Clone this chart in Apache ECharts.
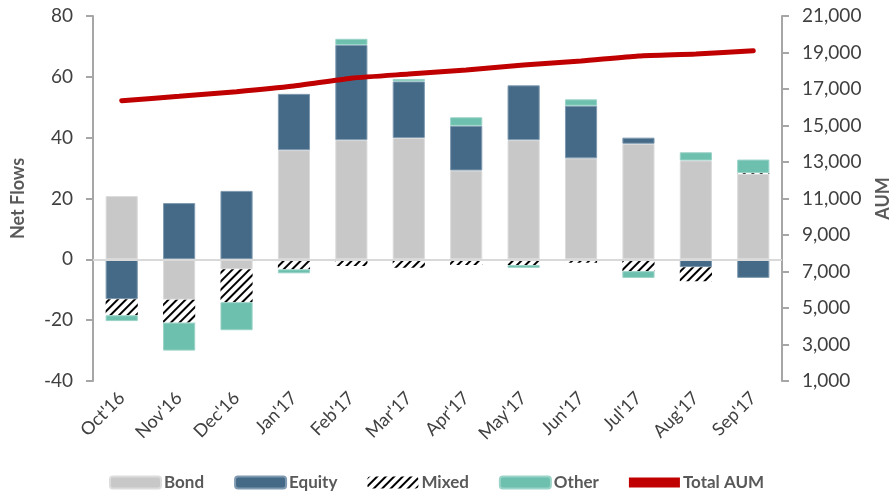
<!DOCTYPE html>
<html>
<head>
<meta charset="utf-8">
<script src="https://cdn.jsdelivr.net/npm/echarts@6/dist/echarts.min.js"></script>
<style>
  html, body { margin: 0; padding: 0; background: #fff; }
  #chart { width: 891px; height: 500px; }
</style>
</head>
<body>
<div id="chart"></div>
<script>
const months = ["Oct'16", "Nov'16", "Dec'16", "Jan'17", "Feb'17", "Mar'17", "Apr'17", "May'17", "Jun'17", "Jul'17", "Aug'17", "Sep'17"]
const bond = [20.8, -13.3, -3.3, 35.9, 39.2, 39.9, 29.2, 39.2, 33.2, 38.0, 32.5, 28.1]
const equity = [-13.1, 18.5, 22.5, 18.5, 31.3, 18.6, 14.7, 18.0, 17.3, 2.0, -2.6, -6.1]
const mixed = [-5.3, -7.5, -10.8, -3.3, -2.2, -2.8, -1.9, -1.9, -1.1, -3.9, -4.6, 0.3]
const other = [-1.9, -9.2, -9.2, -1.3, 2.0, 0.8, 2.8, -0.9, 2.1, -2.2, 2.7, 4.4]
const totalAum = [16360, 16600, 16850, 17160, 17590, 17820, 18040, 18310, 18530, 18810, 18920, 19100]

const chart = echarts.init(document.getElementById('chart'))

const font = 'Lato, "Open Sans", sans-serif'
const textColor = '#404040'
const axisGray = '#A6A6A6'

const option = {
	animation: false,
	textStyle: { fontFamily: font },
	grid: { left: 93, right: 109, top: 16, bottom: 119, outerBoundsMode: 'none', containLabel: false },
	legend: {
		bottom: 4,
		left: 104,
		itemWidth: 51,
		itemHeight: 12,
		itemGap: 30,
		textStyle: { fontFamily: font, fontSize: 17, fontWeight: 'bold', color: '#595959', padding: [0, 0, 0, -2] },
		data: [
			{ name: 'Bond' },
			{ name: 'Equity' },
			{ name: 'Mixed' },
			{ name: 'Other' },
			{ name: 'Total AUM', icon: 'path://M0,0 L10,0 L10,2 L0,2 Z' },
		],
	},
	xAxis: {
		type: 'category',
		data: months,
		axisLine: { show: false },
		axisTick: { show: false },
		axisLabel: { rotate: 45, color: textColor, fontSize: 18, margin: 14, interval: 0 },
	},
	yAxis: [
		{
			type: 'value',
			min: -40,
			max: 80,
			interval: 20,
			name: 'Net Flows',
			nameLocation: 'middle',
			nameGap: 66,
			nameRotate: 90,
			nameTextStyle: { fontSize: 18, fontWeight: 'bold', color: '#595959' },
			axisLine: { show: true, lineStyle: { color: axisGray, width: 2 } },
			axisTick: { show: true, length: 7, lineStyle: { color: axisGray, width: 2 } },
			axisLabel: { color: textColor, fontSize: 19, margin: 20 },
			splitLine: { show: false },
		},
		{
			type: 'value',
			min: 1000,
			max: 21000,
			interval: 2000,
			position: 'right',
			name: 'AUM',
			nameLocation: 'middle',
			nameGap: 92,
			nameRotate: 90,
			nameTextStyle: { fontSize: 18, fontWeight: 'bold', color: '#595959' },
			axisLine: { show: true, lineStyle: { color: axisGray, width: 2 } },
			axisTick: { show: true, length: 7, lineStyle: { color: axisGray, width: 2 } },
			axisLabel: {
				color: textColor,
				fontSize: 19,
				margin: 20,
				formatter: (v) => v.toLocaleString('en-US'),
			},
			splitLine: { show: false },
		},
	],
	series: [
		{
			name: 'Bond',
			type: 'bar',
			stack: 'flows',
			barWidth: '56%',
			itemStyle: { color: '#C8C8C8', borderColor: '#DCDCDC', borderWidth: 1 },
			data: bond,
			markLine: {
				silent: true,
				symbol: 'none',
				label: { show: false },
				lineStyle: { color: '#D9D9D9', width: 2, type: 'solid' },
				data: [{ yAxis: 0 }],
			},
		},
		{
			name: 'Equity',
			type: 'bar',
			stack: 'flows',
			itemStyle: { color: '#456A87', borderColor: '#7F9AB0', borderWidth: 1 },
			data: equity,
		},
		{
			name: 'Mixed',
			type: 'bar',
			stack: 'flows',
			itemStyle: {
				color: '#FFFFFF',
				decal: {
					symbol: 'rect',
					symbolSize: 1,
					color: '#000000',
					backgroundColor: '#FFFFFF',
					dashArrayX: [1, 0],
					dashArrayY: [2, 4],
					rotation: -Math.PI / 4,
				},
			},
			data: mixed,
		},
		{
			name: 'Other',
			type: 'bar',
			stack: 'flows',
			itemStyle: { color: '#6DBFAE', borderColor: '#9AD3C7', borderWidth: 1 },
			data: other,
		},
		{
			name: 'Total AUM',
			type: 'line',
			yAxisIndex: 1,
			symbol: 'none',
			smooth: 0.2,
			lineStyle: { color: '#C00000', width: 5, cap: 'round' },
			itemStyle: { color: '#C00000' },
			data: totalAum,
			z: 5,
		},
	],
}

chart.setOption(option)
</script>
</body>
</html>
